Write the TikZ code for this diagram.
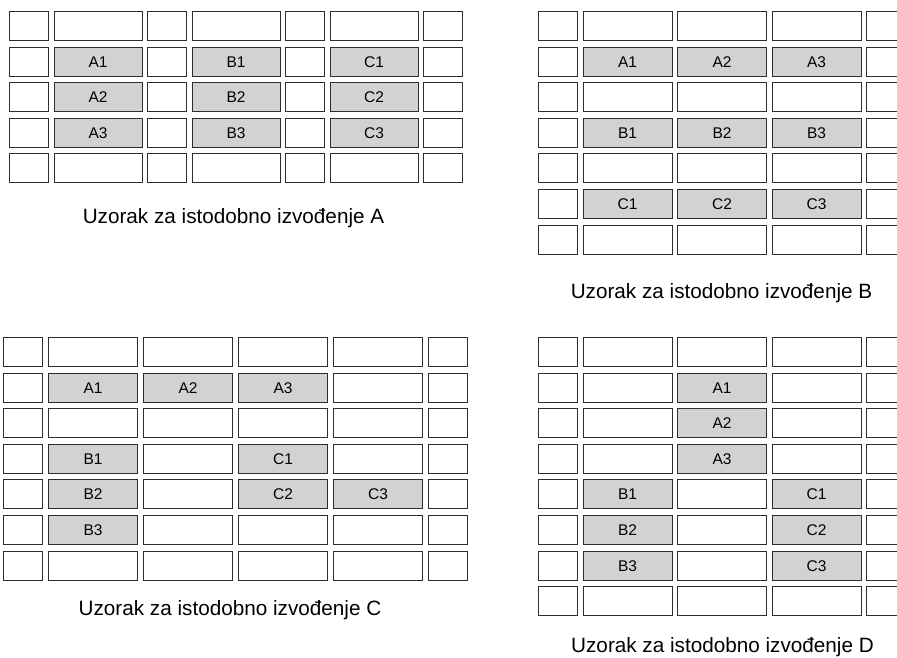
\documentclass[tikz,border=0pt]{standalone}
\usepackage{fontspec}
\setmainfont{Liberation Sans}
\usepackage{xcolor}
\usepackage{tikz}
\usetikzlibrary{positioning}

\definecolor{slotgray}{RGB}{210,210,210}
\definecolor{boxline}{RGB}{45,45,45}

% label of a shaded cell: grid, row, column, text
\newcommand\putslot[4]{\expandafter\def\csname slot-#1-#2-#3\endcsname{#4}}

\putslot{A}{2}{2}{A1}\putslot{A}{3}{2}{A2}\putslot{A}{4}{2}{A3}
\putslot{A}{2}{4}{B1}\putslot{A}{3}{4}{B2}\putslot{A}{4}{4}{B3}
\putslot{A}{2}{6}{C1}\putslot{A}{3}{6}{C2}\putslot{A}{4}{6}{C3}

\putslot{B}{2}{2}{A1}\putslot{B}{2}{3}{A2}\putslot{B}{2}{4}{A3}
\putslot{B}{4}{2}{B1}\putslot{B}{4}{3}{B2}\putslot{B}{4}{4}{B3}
\putslot{B}{6}{2}{C1}\putslot{B}{6}{3}{C2}\putslot{B}{6}{4}{C3}

\putslot{C}{2}{2}{A1}\putslot{C}{2}{3}{A2}\putslot{C}{2}{4}{A3}
\putslot{C}{4}{2}{B1}\putslot{C}{5}{2}{B2}\putslot{C}{6}{2}{B3}
\putslot{C}{4}{4}{C1}\putslot{C}{5}{4}{C2}\putslot{C}{5}{5}{C3}

\putslot{D}{2}{3}{A1}\putslot{D}{3}{3}{A2}\putslot{D}{4}{3}{A3}
\putslot{D}{5}{2}{B1}\putslot{D}{6}{2}{B2}\putslot{D}{7}{2}{B3}
\putslot{D}{5}{4}{C1}\putslot{D}{6}{4}{C2}\putslot{D}{7}{4}{C3}

\begin{document}
\begin{tikzpicture}[x=1pt, y=-1pt,
  cell/.style={draw=boxline, line width=1pt, minimum height=29pt, inner sep=0pt,
    text height=11pt, text depth=0pt, font=\fontsize{15.5}{18}\selectfont},
  slot/.style={cell, fill=slotgray},
  caption/.style={anchor=base, font=\fontsize{20.7}{24}\selectfont}]

\useasboundingbox (0,0) rectangle (897,657);

% one cell, shaded and labelled when a slot is defined for it
\def\putcell#1#2#3#4#5{%
  \ifcsname slot-#1-#2-#3\endcsname
    \node[slot, minimum width=#5-1] (#1-#2-#3) at (#4,{\rowtop+15+(#2-1)*35.6}) {\csname slot-#1-#2-#3\endcsname};
  \else
    \node[cell, minimum width=#5-1] (#1-#2-#3) at (#4,{\rowtop+15+(#2-1)*35.6}) {};
  \fi}

% Pattern A
\def\rowtop{11}
\foreach \c/\x/\w in {1/29/40, 2/98/89, 3/167/40, 4/236/89, 5/305/40, 6/374/89, 7/443/40}
  \foreach \r in {1,...,5} {\putcell{A}{\r}{\c}{\x}{\w}}
\node[caption] (capA) at (233.5,223) {Uzorak za istodobno izvođenje A};

% Pattern B
\def\rowtop{11}
\foreach \c/\x/\w in {1/558/40, 2/627.5/90, 3/722/90, 4/816.5/90, 5/886/40}
  \foreach \r in {1,...,7} {\putcell{B}{\r}{\c}{\x}{\w}}
\node[caption] (capB) at (721.5,298) {Uzorak za istodobno izvođenje B};

% Pattern C
\def\rowtop{337}
\foreach \c/\x/\w in {1/23/40, 2/93/90, 3/188/90, 4/283/90, 5/378/90, 6/448/40}
  \foreach \r in {1,...,7} {\putcell{C}{\r}{\c}{\x}{\w}}
\node[caption] (capC) at (230,615) {Uzorak za istodobno izvođenje C};

% Pattern D
\def\rowtop{337}
\foreach \c/\x/\w in {1/558/40, 2/627.5/90, 3/722/90, 4/816.5/90, 5/886/40}
  \foreach \r in {1,...,8} {\putcell{D}{\r}{\c}{\x}{\w}}
\node[caption] (capD) at (722.5,652) {Uzorak za istodobno izvođenje D};

\end{tikzpicture}
\end{document}
